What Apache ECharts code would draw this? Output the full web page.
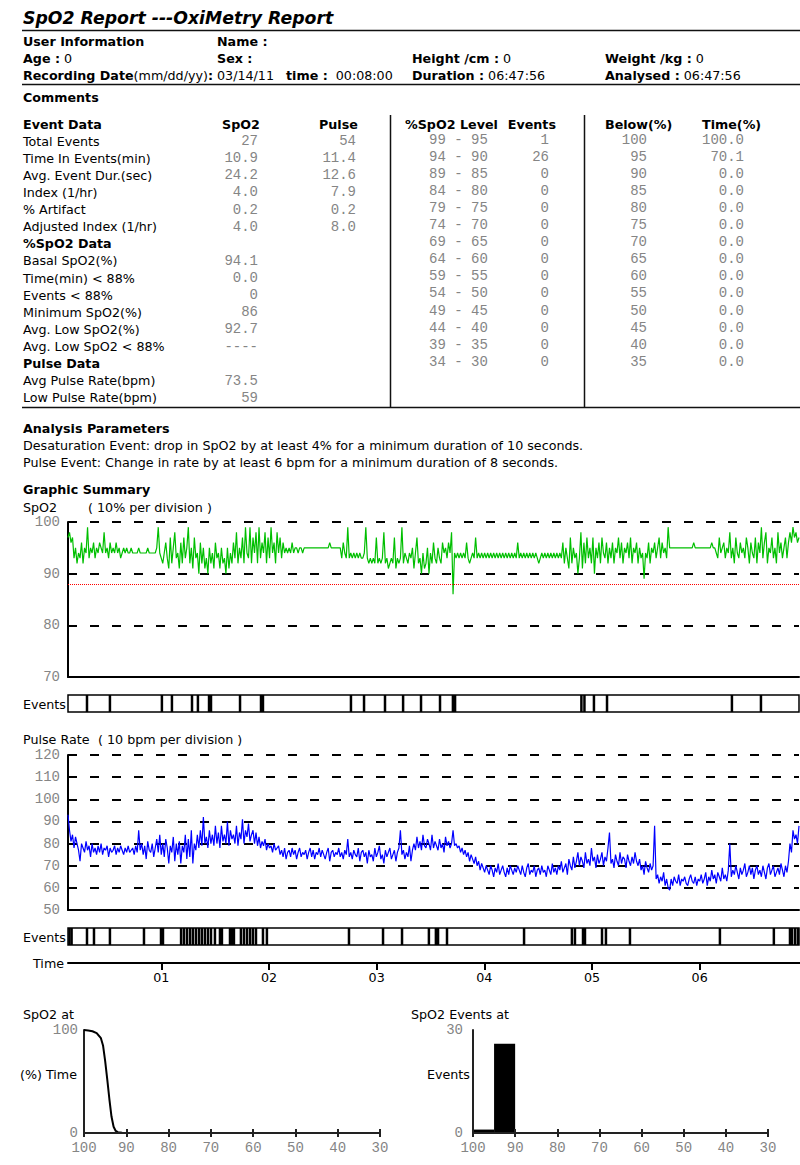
<!DOCTYPE html>
<html>
<head>
<meta charset="utf-8">
<script src="https://cdn.jsdelivr.net/npm/echarts@6/dist/echarts.min.js"></script>
<style>
html,body{margin:0;padding:0;background:#fff;}
#c{width:800px;height:1165px;}
</style>
</head>
<body>
<div id="c"></div>
<script>
// ---------------- DATA ----------------
const START_H = 8 / 60;                        // recording start 00:08:00
const DURATION_H = 6 + 47 / 60 + 56 / 3600;    // 06:47:56

const EVENT_DATA_LABELS = ['Total Events', 'Time In Events(min)', 'Avg. Event Dur.(sec)', 'Index (1/hr)', '% Artifact', 'Adjusted Index (1/hr)'];
const EVENT_DATA_SPO2 = ['27', '10.9', '24.2', '4.0', '0.2', '4.0'];
const EVENT_DATA_PULSE = ['54', '11.4', '12.6', '7.9', '0.2', '8.0'];
const SPO2_DATA_LABELS = ['Basal SpO2(%)', 'Time(min) < 88%', 'Events < 88%', 'Minimum SpO2(%)', 'Avg. Low SpO2(%)', 'Avg. Low SpO2 < 88%'];
const SPO2_DATA_VALUES = ['94.1', '0.0', '0', '86', '92.7', '----'];
const PULSE_DATA_LABELS = ['Avg Pulse Rate(bpm)', 'Low Pulse Rate(bpm)'];
const PULSE_DATA_VALUES = ['73.5', '59'];

const LEVEL_RANGES = ['99 - 95', '94 - 90', '89 - 85', '84 - 80', '79 - 75', '74 - 70', '69 - 65', '64 - 60', '59 - 55', '54 - 50', '49 - 45', '44 - 40', '39 - 35', '34 - 30'];
const LEVEL_BIN_HI = [100, 95, 90, 85, 80, 75, 70, 65, 60, 55, 50, 45, 40, 35];
const LEVEL_BIN_LO = [95, 90, 85, 80, 75, 70, 65, 60, 55, 50, 45, 40, 35, 30];
const LEVEL_EVENTS = [1, 26, 0, 0, 0, 0, 0, 0, 0, 0, 0, 0, 0, 0];
const BELOW_LEVELS = [100, 95, 90, 85, 80, 75, 70, 65, 60, 55, 50, 45, 40, 35];
const BELOW_TIME = [100.0, 70.1, 0.0, 0.0, 0.0, 0.0, 0.0, 0.0, 0.0, 0.0, 0.0, 0.0, 0.0, 0.0];

// SpO2 trace (%), samples evenly spread over the recording
const SPO2 = [
97,98,96,97,93,95,92,94,93,96,92,95,94,99,93,95,94,96,93,95,
94,96,95,94,98,94,95,93,96,94,95,94,96,94,95,93,94,95,94,95,
94,94,95,94,94,94,94,95,94,94,94,94,94,95,94,94,94,94,94,95,
99,94,93,92,94,96,93,91,97,92,95,98,93,94,91,96,92,97,93,95,
99,92,95,91,97,93,94,90,96,92,95,91,93,90,95,92,94,91,96,93,
94,91,95,92,93,90,95,91,94,92,96,93,98,92,95,93,97,92,99,94,
93,99,92,97,94,98,92,99,93,96,94,98,92,97,93,99,94,96,92,98,
94,97,93,96,94,95,94,95,94,96,94,95,95,94,95,95,94,95,95,95,
95,95,95,95,95,95,95,95,95,95,95,95,95,95,96,95,95,95,95,95,
95,95,93,96,94,93,99,93,94,93,94,93,94,93,94,93,93,94,99,93,
92,93,92,93,92,97,92,93,92,93,98,92,93,91,92,93,92,97,91,93,
92,93,99,92,94,93,92,94,93,95,91,94,97,92,93,90,94,91,92,95,
90,94,92,96,93,92,95,93,92,96,94,95,93,96,94,98,86,94,93,94,
93,94,93,94,93,96,93,92,93,94,93,97,93,94,93,94,93,94,93,94,
93,94,93,94,93,94,93,94,93,94,93,94,93,94,93,94,93,94,93,96,
93,94,93,94,93,94,93,94,93,94,93,94,93,92,93,94,93,94,93,94,
93,94,93,94,93,94,93,94,93,96,92,95,93,91,97,92,95,93,94,90,
93,98,91,96,92,97,93,95,92,97,90,95,93,96,92,97,94,93,96,92,
95,93,96,92,95,94,97,93,96,92,95,94,96,93,97,92,95,94,96,92,
95,93,94,89,94,93,96,92,95,94,96,93,95,97,93,96,94,95,93,99,
95,95,95,95,95,95,95,95,95,95,95,95,95,95,95,95,96,95,95,95,
95,95,95,95,95,95,95,95,96,95,95,94,93,97,94,95,96,93,95,94,
98,93,95,92,97,94,93,96,94,95,93,97,95,92,96,94,93,97,92,96,
94,99,93,96,98,92,95,94,97,93,95,92,98,94,96,93,95,97,93,96,
98,96,99,97,98,96,97
];
// Pulse trace (bpm), same sampling
const PULSE = [
93,86,81,84,78,83,80,77,72,80,78,76,81,77,79,74,80,76,78,75,
79,76,80,75,78,77,79,74,78,76,77,79,75,78,76,79,77,75,78,76,
79,76,77,78,75,79,76,86,77,80,75,79,73,81,77,76,80,74,78,82,
76,84,75,80,74,82,78,71,79,76,83,72,80,75,81,71,79,76,84,73,
82,74,86,71,80,77,84,78,86,79,92,80,83,78,86,80,84,79,88,80,
85,78,88,81,84,80,90,79,86,82,84,80,88,79,85,82,91,80,86,83,
89,81,84,86,80,85,79,83,78,81,79,82,77,80,78,79,76,80,77,78,
79,75,77,74,78,73,76,77,74,78,75,77,73,76,78,74,76,75,77,73,
76,78,74,77,73,76,75,78,74,77,75,73,76,78,72,76,77,74,76,75,
78,74,76,73,77,75,82,74,76,73,77,75,74,78,72,76,77,74,76,71,
77,74,75,72,78,74,76,79,73,75,71,77,74,76,78,73,75,77,72,76,
78,86,75,77,73,76,74,79,72,77,80,77,83,78,81,77,84,79,78,82,
80,77,84,78,81,79,77,82,78,80,76,83,79,81,78,80,86,79,80,78,
79,76,78,75,77,74,76,72,75,73,71,74,70,72,68,71,69,67,70,68,
66,70,68,65,69,67,71,66,68,70,67,65,69,66,70,68,66,69,67,70,
68,66,70,67,65,69,71,66,68,67,70,65,68,69,66,70,67,68,65,70,
68,66,71,67,69,66,70,68,72,67,69,71,66,73,70,68,74,69,72,76,
70,74,72,69,76,71,73,70,78,72,74,69,75,71,73,76,70,74,72,78,
85,71,73,69,75,72,70,76,71,74,73,69,75,72,70,74,71,76,72,70,
73,68,70,66,72,69,67,71,68,70,88,64,66,62,65,63,67,61,64,60,
59,64,61,65,63,62,66,61,64,63,65,62,61,64,66,63,62,65,61,64,
63,66,62,64,67,61,65,63,68,64,66,62,67,65,63,69,64,66,63,68,
80,65,68,66,70,67,64,69,66,68,71,65,67,70,66,69,64,68,70,66,
68,65,70,67,64,69,71,66,68,70,65,67,69,66,71,68,65,70,67,72,
80,76,86,82,84,80,88
];
// Event onsets, minutes from recording start
const SPO2_EVENT_MIN = [10.6, 23.4, 52.4, 58.0, 69.2, 72.5, 78.7, 79.8, 96.0, 107.7, 108.8, 157.9, 165.2, 176.9, 187.0, 197.0, 207.6, 214.8, 216.0, 286.5, 288.2, 293.5, 300.8, 370.5, 386.7];
const PULSE_EVENT_MIN = [0.8, 2.0, 10.6, 14.5, 23.4, 42.4, 51.9, 53.0, 63.1, 64.7, 66.4, 68.1, 69.7, 71.4, 73.1, 74.7, 76.4, 78.1, 79.8, 82.0, 84.8, 85.9, 90.4, 91.5, 92.6, 96.5, 98.2, 99.9, 101.6, 103.2, 104.9, 108.8, 111.0, 156.8, 175.8, 186.4, 201.4, 205.3, 206.5, 211.5, 254.5, 281.2, 282.9, 287.4, 288.5, 298.0, 300.2, 313.6, 363.8, 393.9, 402.9, 404.0, 405.7, 407.3];
const DESAT_THRESHOLD = 88;

const TIME_TICK_HOURS = [1, 2, 3, 4, 5, 6];
const TIME_TICK_LABELS = ['01', '02', '03', '04', '05', '06'];

// cumulative % time at or above SpO2 level
const CURVE_SPO2 = [100, 99, 98, 97, 96, 95.5, 95, 94.5, 94, 93.5, 93, 92.5, 92, 91, 90];
const CURVE_TIME = [100, 99.6, 98.8, 97, 92, 85, 70.1, 52, 33, 16, 6, 2, 0.8, 0.2, 0];

// ---------------- STYLES ----------------
const FF = '"DejaVu Sans", Verdana, sans-serif';
const MONO = '"Liberation Mono", "Courier New", monospace';
const REG = '12.7px ' + FF;
const BOLD = 'bold 12.7px ' + FF;
const VAL = '14px ' + MONO;
const GRAY = '#858585';
const EVENT_W = 2.5;

function T(x, y, text, o) {
  o = o || {};
  const st = { text: text, font: o.font || REG, fill: o.fill || '#000', align: o.align || 'left', verticalAlign: 'middle' };
  if (o.rich) st.rich = o.rich;
  return { type: 'text', x: x, y: y, silent: true, z: 10, style: st };
}
function L(x1, y1, x2, y2, w) {
  return { type: 'line', silent: true, z: 10, shape: { x1: x1, y1: y1, x2: x2, y2: y2 }, style: { stroke: '#111', lineWidth: w || 1.5 } };
}
const RB = { b: { font: BOLD, fill: '#000' } };

// ---------------- TEXT / LAYOUT ----------------
const G = [];
G.push(T(23, 18, 'SpO2 Report ---OxiMetry Report', { font: 'italic bold 17.3px ' + FF }));
G.push(L(22, 30.5, 800, 30.5, 1.5));
G.push(T(23, 41, 'User Information', { font: BOLD }));
G.push(T(217, 41, 'Name :', { font: BOLD }));
G.push(T(23, 58, '{b|Age :} 0', { rich: RB }));
G.push(T(217, 58, 'Sex :', { font: BOLD }));
G.push(T(412, 58, '{b|Height /cm :} 0', { rich: RB }));
G.push(T(605, 58, '{b|Weight /kg :} 0', { rich: RB }));
G.push(T(23, 75, '{b|Recording Date}(mm/dd/yy){b|:} 03/14/11', { rich: RB }));
G.push(T(286, 75, '{b|time :}  00:08:00', { rich: RB }));
G.push(T(412, 75, '{b|Duration :} 06:47:56', { rich: RB }));
G.push(T(605, 75, '{b|Analysed :} 06:47:56', { rich: RB }));
G.push(L(22, 84.5, 800, 84.5, 1.5));
G.push(T(23, 97, 'Comments', { font: BOLD }));

// table headers
G.push(T(23, 124, 'Event Data', { font: BOLD }));
G.push(T(222, 124, 'SpO2', { font: BOLD }));
G.push(T(319, 124, 'Pulse', { font: BOLD }));
G.push(T(405, 124, '%SpO2 Level', { font: BOLD }));
G.push(T(556, 124, 'Events', { font: BOLD, align: 'right' }));
G.push(T(605, 124, 'Below(%)', { font: BOLD }));
G.push(T(702, 124, 'Time(%)', { font: BOLD }));

const rowY = i => 141 + i * 17.13;
EVENT_DATA_LABELS.forEach((s, i) => {
  G.push(T(23, rowY(i), s));
  G.push(T(258, rowY(i), EVENT_DATA_SPO2[i], { font: VAL, fill: GRAY, align: 'right' }));
  G.push(T(356, rowY(i), EVENT_DATA_PULSE[i], { font: VAL, fill: GRAY, align: 'right' }));
});
G.push(T(23, rowY(6), '%SpO2 Data', { font: BOLD }));
SPO2_DATA_LABELS.forEach((s, i) => {
  G.push(T(23, rowY(7 + i), s));
  G.push(T(258, rowY(7 + i), SPO2_DATA_VALUES[i], { font: VAL, fill: GRAY, align: 'right' }));
});
G.push(T(23, rowY(13), 'Pulse Data', { font: BOLD }));
PULSE_DATA_LABELS.forEach((s, i) => {
  G.push(T(23, rowY(14 + i), s));
  G.push(T(258, rowY(14 + i), PULSE_DATA_VALUES[i], { font: VAL, fill: GRAY, align: 'right' }));
});
const rowY2 = i => 140 + i * 17.05;
LEVEL_RANGES.forEach((s, i) => {
  G.push(T(429, rowY2(i), s, { font: VAL, fill: GRAY }));
  G.push(T(549, rowY2(i), String(LEVEL_EVENTS[i]), { font: VAL, fill: GRAY, align: 'right' }));
  G.push(T(647, rowY2(i), String(BELOW_LEVELS[i]), { font: VAL, fill: GRAY, align: 'right' }));
  G.push(T(744, rowY2(i), BELOW_TIME[i].toFixed(1), { font: VAL, fill: GRAY, align: 'right' }));
});
G.push(L(22, 407.5, 800, 407.5, 1.5));
G.push(L(390.5, 115, 390.5, 407.5, 1.5));
G.push(L(584.5, 115, 584.5, 407.5, 1.5));

G.push(T(23, 428, 'Analysis Parameters', { font: BOLD }));
G.push(T(23, 445, 'Desaturation Event: drop in SpO2 by at least 4% for a minimum duration of 10 seconds.'));
G.push(T(23, 462, 'Pulse Event: Change in rate by at least 6 bpm for a minimum duration of 8 seconds.'));

G.push(T(23, 489, 'Graphic Summary', { font: BOLD }));
G.push(T(23, 507, 'SpO2'));
G.push(T(88, 507, '( 10% per division )'));
G.push(T(23, 704, 'Events'));
G.push(T(23, 739, 'Pulse Rate'));
G.push(T(98, 739, '( 10 bpm per division )'));
G.push(T(23, 937, 'Events'));
G.push(T(33, 963, 'Time'));
G.push(T(23, 1014, 'SpO2 at'));
G.push(T(20, 1074, '(%) Time'));
G.push(T(411, 1014, 'SpO2 Events at'));
G.push(T(427, 1074, 'Events'));

// ---------------- CHART ----------------
const T_MIN = START_H, T_MAX = START_H + DURATION_H;
const stepS = DURATION_H / (SPO2.length - 1);
const stepP = DURATION_H / (PULSE.length - 1);
const spo2Data = SPO2.map((v, i) => [START_H + i * stepS, v]);
const pulseData = PULSE.map((v, i) => [START_H + i * stepP, v]);
const spo2Events = SPO2_EVENT_MIN.map(m => [START_H + m / 60]);
const pulseEvents = PULSE_EVENT_MIN.map(m => [START_H + m / 60]);
const curveData = CURVE_SPO2.map((s, i) => [s, CURVE_TIME[i]]);
const histData = LEVEL_EVENTS.map((n, i) => [LEVEL_BIN_HI[i], LEVEL_BIN_LO[i], n]).filter(d => d[2] > 0);

const axLine = { show: true, lineStyle: { color: '#000', width: 2 } };
const grayLabel = { color: GRAY, fontFamily: MONO, fontSize: 14 };
const dash = { show: true, lineStyle: { color: '#000', width: 2, type: [9, 13] } };

function timeX(grid, visible) {
  return { type: 'value', gridIndex: grid, min: T_MIN, max: T_MAX, z: 5,
    axisLine: visible ? axLine : { show: false }, axisTick: { show: false }, axisLabel: { show: false }, splitLine: { show: false } };
}
function hiddenY(grid) {
  return { type: 'value', gridIndex: grid, min: 0, max: 1, show: false };
}
function eventBar(params, api) {
  const cs = params.coordSys;
  const x = api.coord([api.value(0), 0])[0];
  return { type: 'rect', shape: { x: x - EVENT_W / 2, y: cs.y, width: EVENT_W, height: cs.height }, style: { fill: '#000' } };
}
function histBar(params, api) {
  const p1 = api.coord([api.value(0), api.value(2)]);
  const p2 = api.coord([api.value(1), 0]);
  return { type: 'rect', shape: { x: Math.min(p1[0], p2[0]), y: p1[1], width: Math.abs(p2[0] - p1[0]), height: p2[1] - p1[1] }, style: { fill: '#000' } };
}
function levelX(grid, inner) {
  return { type: 'value', gridIndex: grid, inverse: true, min: 30, max: 100, interval: 10, position: 'bottom', offset: 0, z: 5,
    axisLine: inner ? { show: false } : { show: true, lineStyle: { color: '#222', width: 2 } },
    axisTick: { show: true, inside: !!inner, length: 4, lineStyle: { color: '#222', width: 2 } },
    axisLabel: inner ? { show: false } : Object.assign({ margin: 8 }, grayLabel),
    splitLine: { show: false } };
}

const gridBase = { outerBoundsMode: 'none', containLabel: false };
const option = {
  animation: false,
  backgroundColor: '#fff',
  graphic: { elements: G },
  grid: [
    Object.assign({ left: 68, top: 522, width: 731, height: 155 }, gridBase),
    Object.assign({ left: 68, top: 695, width: 731, height: 17, show: true, borderColor: '#000', borderWidth: 1.5 }, gridBase),
    Object.assign({ left: 68, top: 755, width: 731, height: 155 }, gridBase),
    Object.assign({ left: 68, top: 928, width: 731, height: 17, show: true, borderColor: '#000', borderWidth: 1.5 }, gridBase),
    Object.assign({ left: 68, top: 950, width: 732, height: 13 }, gridBase),
    Object.assign({ left: 84, top: 1030, width: 296, height: 103 }, gridBase),
    Object.assign({ left: 473, top: 1030, width: 295, height: 103 }, gridBase)
  ],
  xAxis: [
    timeX(0, true), timeX(1, false), timeX(2, true), timeX(3, false),
    { type: 'value', gridIndex: 4, min: T_MIN, max: T_MAX, axisLine: axLine,
      axisTick: { show: true, customValues: TIME_TICK_HOURS, length: 7, lineStyle: { color: '#000', width: 2 } },
      axisLabel: { show: true, customValues: TIME_TICK_HOURS, margin: 8, color: '#000', fontFamily: FF, fontSize: 12.7,
        formatter: v => TIME_TICK_LABELS[TIME_TICK_HOURS.indexOf(Math.round(v))] },
      splitLine: { show: false } },
    levelX(5, false), levelX(5, true),
    levelX(6, false), levelX(6, true)
  ],
  yAxis: [
    { type: 'value', gridIndex: 0, min: 70, max: 100, interval: 10, axisLine: axLine, axisTick: { show: false },
      axisLabel: Object.assign({ margin: 8 }, grayLabel), splitLine: dash },
    hiddenY(1),
    { type: 'value', gridIndex: 2, min: 50, max: 120, interval: 10, axisLine: axLine, axisTick: { show: false },
      axisLabel: Object.assign({ margin: 8 }, grayLabel), splitLine: dash },
    hiddenY(3),
    hiddenY(4),
    { type: 'value', gridIndex: 5, min: 0, max: 100, interval: 100, axisLine: { show: true, lineStyle: { color: '#222', width: 2 } },
      axisTick: { show: false }, axisLabel: Object.assign({ margin: 6 }, grayLabel), splitLine: { show: false } },
    { type: 'value', gridIndex: 6, min: 0, max: 30, interval: 30, axisLine: { show: true, lineStyle: { color: '#222', width: 2 } },
      axisTick: { show: false }, axisLabel: Object.assign({ margin: 10 }, grayLabel), splitLine: { show: false } }
  ],
  series: [
    { type: 'line', xAxisIndex: 0, yAxisIndex: 0, data: spo2Data, showSymbol: false, symbol: 'none',
      lineStyle: { color: '#00bf00', width: 1.2 }, z: 3,
      markLine: { silent: true, symbol: ['none', 'none'], label: { show: false },
        lineStyle: { color: '#ff0000', type: 'dotted', width: 1 }, data: [{ yAxis: DESAT_THRESHOLD }] } },
    { type: 'custom', xAxisIndex: 1, yAxisIndex: 1, data: spo2Events, renderItem: eventBar, encode: { x: 0 } },
    { type: 'line', xAxisIndex: 2, yAxisIndex: 2, data: pulseData, showSymbol: false, symbol: 'none',
      lineStyle: { color: '#0000ff', width: 1.2 }, z: 3 },
    { type: 'custom', xAxisIndex: 3, yAxisIndex: 3, data: pulseEvents, renderItem: eventBar, encode: { x: 0 } },
    { type: 'line', xAxisIndex: 5, yAxisIndex: 5, data: curveData, showSymbol: false, symbol: 'none',
      lineStyle: { color: '#000', width: 2 } },
    { type: 'custom', xAxisIndex: 7, yAxisIndex: 6, data: histData, renderItem: histBar, encode: { x: [0, 1], y: 2 } }
  ]
};

const chart = echarts.init(document.getElementById('c'), null, { renderer: 'svg', width: 800, height: 1165 });
chart.setOption(option);
</script>
</body>
</html>
